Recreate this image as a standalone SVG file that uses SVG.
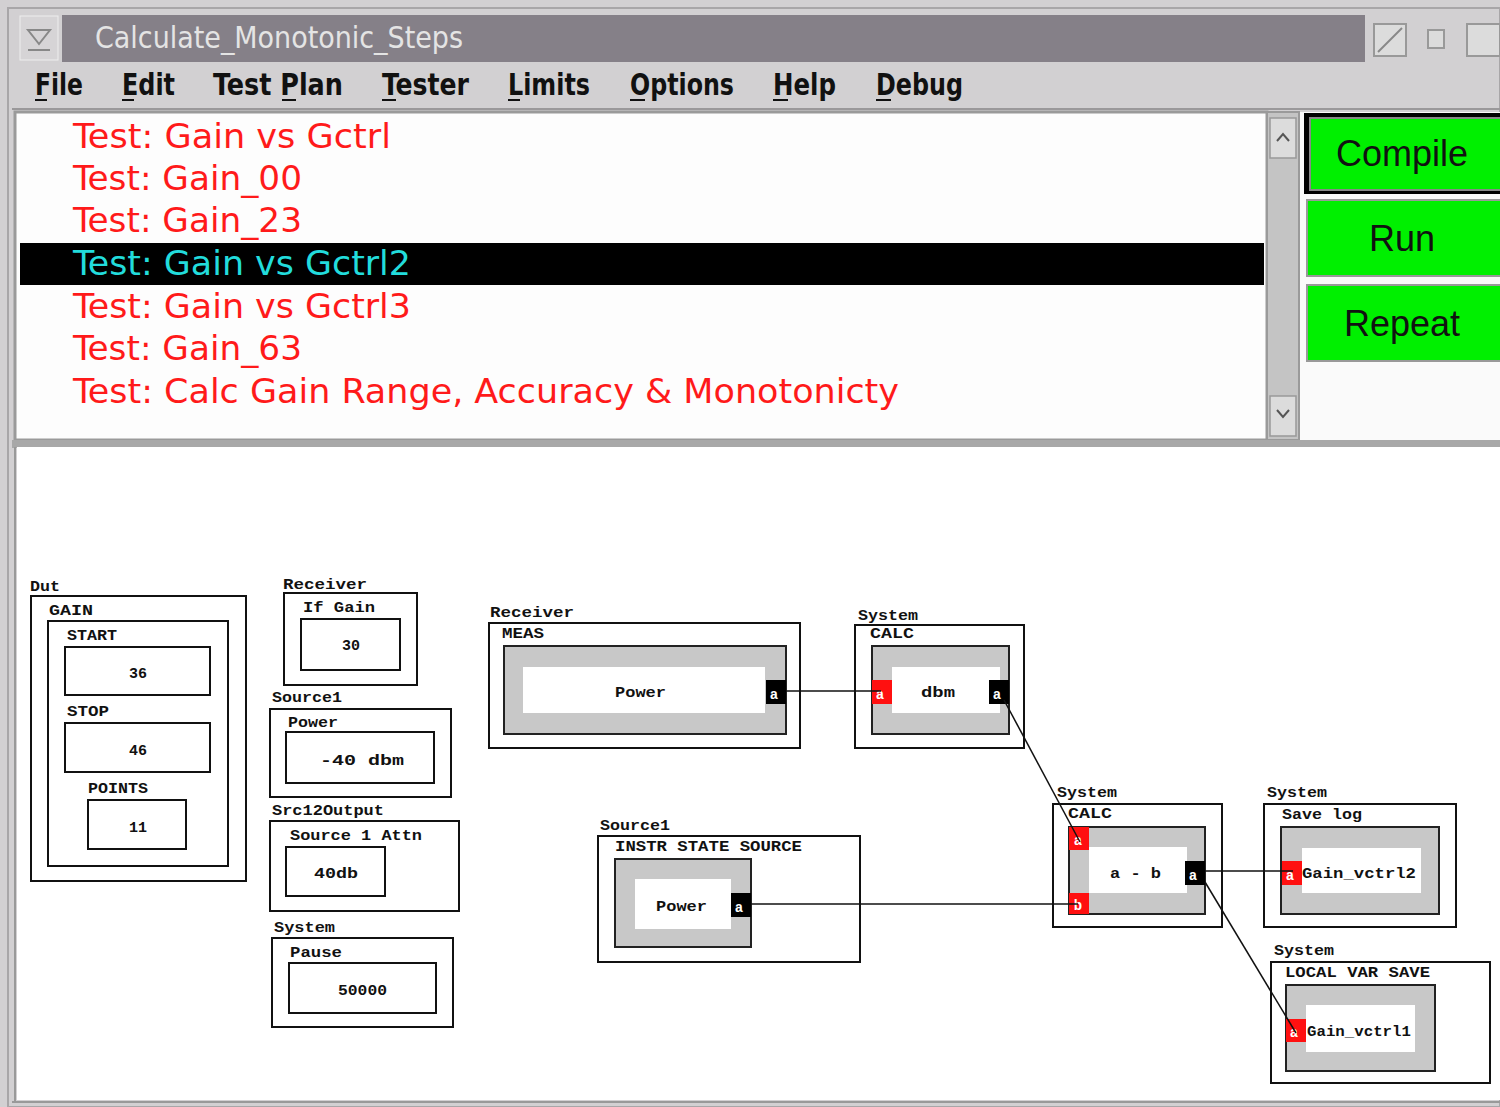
<svg xmlns="http://www.w3.org/2000/svg" width="1500" height="1107" viewBox="0 0 1500 1107">
  <defs>
    <style>
      .ui { font-family: "DejaVu Sans Condensed", "Liberation Sans", sans-serif; }
      .menu { font-family: "DejaVu Sans Condensed", "Liberation Sans", sans-serif; font-size: 30px; font-weight: bold; fill: #111; }
      .item { font-family: "DejaVu Sans Condensed", "Liberation Sans", sans-serif; font-size: 34px; fill: #ff1a1a; }
      .btn { font-family: "Liberation Sans", Arial, sans-serif; font-size: 36px; fill: #111; text-anchor: middle; }
      .t { font-family: "Liberation Mono", "Courier New", monospace; font-size: 15px; font-weight: bold; fill: #111; }
      .tc { font-family: "Liberation Mono", "Courier New", monospace; font-size: 15px; font-weight: bold; fill: #111; text-anchor: middle; }
      .pt { font-family: "Liberation Mono", "Courier New", monospace; font-size: 14px; font-weight: bold; fill: #fff; text-anchor: middle; }
      .box { fill: #fff; stroke: #111; stroke-width: 2; }
      .blk { fill: #c8c8c8; stroke: #222; stroke-width: 2; }
      .inner { fill: #fff; }
      .pin { fill: #ff1010; }
      .pout { fill: #000; }
      .wire { fill: none; stroke: #111; stroke-width: 1.5; }
      .ul { stroke: #111; stroke-width: 2; }
    </style>
  </defs>

  <!-- window frame -->
  <rect x="0" y="0" width="1500" height="1107" fill="#d2d0d2"/>
  <rect x="8" y="8" width="1492" height="1099" fill="#d2d0d2" stroke="#a8a6a8" stroke-width="2"/>

  <!-- title bar -->
  <rect x="20" y="16" width="38" height="44" fill="#d6d4d6" stroke="#eee" stroke-width="1"/>
  <path d="M28 30 L50 30 L39 44 Z" fill="none" stroke="#888" stroke-width="2"/>
  <line x1="28" y1="50" x2="50" y2="50" stroke="#888" stroke-width="2"/>
  <rect x="62" y="15" width="1303" height="47" fill="#858088"/>
  <text x="95" y="48" class="ui" font-size="30" fill="#e4e4e4" textLength="368" lengthAdjust="spacingAndGlyphs">Calculate_Monotonic_Steps</text>
  <rect x="1374" y="24" width="32" height="32" fill="#dcdcdc" stroke="#999" stroke-width="2"/>
  <line x1="1378" y1="52" x2="1402" y2="28" stroke="#888" stroke-width="2"/>
  <rect x="1428" y="30" width="16" height="18" fill="#dcdcdc" stroke="#999" stroke-width="2"/>
  <rect x="1467" y="24" width="33" height="32" fill="#dcdcdc" stroke="#999" stroke-width="2"/>

  <!-- menu bar -->
  <g id="menu">
    <text x="35" y="95" class="menu" textLength="48" lengthAdjust="spacingAndGlyphs">File</text>
    <line x1="35" y1="100" x2="47" y2="100" class="ul"/>
    <text x="122" y="95" class="menu" textLength="53" lengthAdjust="spacingAndGlyphs">Edit</text>
    <line x1="122" y1="100" x2="134" y2="100" class="ul"/>
    <text x="213" y="95" class="menu" textLength="130" lengthAdjust="spacingAndGlyphs">Test Plan</text>
    <line x1="282" y1="100" x2="296" y2="100" class="ul"/>
    <text x="382" y="95" class="menu" textLength="87" lengthAdjust="spacingAndGlyphs">Tester</text>
    <line x1="382" y1="100" x2="396" y2="100" class="ul"/>
    <text x="508" y="95" class="menu" textLength="82" lengthAdjust="spacingAndGlyphs">Limits</text>
    <line x1="508" y1="100" x2="520" y2="100" class="ul"/>
    <text x="630" y="95" class="menu" textLength="104" lengthAdjust="spacingAndGlyphs">Options</text>
    <line x1="630" y1="100" x2="645" y2="100" class="ul"/>
    <text x="773" y="95" class="menu" textLength="63" lengthAdjust="spacingAndGlyphs">Help</text>
    <line x1="773" y1="100" x2="788" y2="100" class="ul"/>
    <text x="876" y="95" class="menu" textLength="87" lengthAdjust="spacingAndGlyphs">Debug</text>
    <line x1="876" y1="100" x2="891" y2="100" class="ul"/>
  </g>
  <line x1="12" y1="109" x2="1500" y2="109" stroke="#9a989a" stroke-width="2"/>

  <!-- test list -->
  <g id="test-list">
    <rect x="15" y="112" width="1252" height="328" fill="#fdfdfd" stroke="#9a9a9a" stroke-width="3"/>
    <rect x="20" y="243" width="1244" height="42" fill="#000"/>
    <text x="73" y="148" class="item" textLength="318" lengthAdjust="spacingAndGlyphs">Test: Gain vs Gctrl</text>
    <text x="73" y="190" class="item" textLength="229" lengthAdjust="spacingAndGlyphs">Test: Gain_00</text>
    <text x="73" y="232" class="item" textLength="229" lengthAdjust="spacingAndGlyphs">Test: Gain_23</text>
    <text x="73" y="275" class="item" style="fill:#22dcdc" textLength="338" lengthAdjust="spacingAndGlyphs">Test: Gain vs Gctrl2</text>
    <text x="73" y="318" class="item" textLength="338" lengthAdjust="spacingAndGlyphs">Test: Gain vs Gctrl3</text>
    <text x="73" y="360" class="item" textLength="229" lengthAdjust="spacingAndGlyphs">Test: Gain_63</text>
    <text x="73" y="403" class="item" textLength="826" lengthAdjust="spacingAndGlyphs">Test: Calc Gain Range, Accuracy &amp; Monotonicty</text>
  </g>

  <!-- scrollbar -->
  <g id="scrollbar">
    <rect x="1267" y="112" width="32" height="328" fill="#c4c4c4" stroke="#9a9a9a" stroke-width="2"/>
    <rect x="1270" y="118" width="26" height="40" fill="#dcdcdc" stroke="#999" stroke-width="1.5"/>
    <path d="M1277 141 L1283 134 L1289 141" fill="none" stroke="#555" stroke-width="2"/>
    <rect x="1270" y="396" width="26" height="40" fill="#dcdcdc" stroke="#999" stroke-width="1.5"/>
    <path d="M1277 410 L1283 417 L1289 410" fill="none" stroke="#555" stroke-width="2"/>
  </g>

  <!-- buttons -->
  <rect x="1300" y="112" width="200" height="330" fill="#fafafa"/>
  <g id="btn-compile">
    <rect x="1304" y="113" width="198" height="81" fill="#000"/>
    <rect x="1310" y="118" width="192" height="72" fill="#00f000" stroke="#888" stroke-width="2"/>
    <text x="1402" y="166" class="btn">Compile</text>
  </g>
  <g id="btn-run">
    <rect x="1307" y="200" width="195" height="76" fill="#00f000" stroke="#999" stroke-width="2"/>
    <text x="1402" y="251" class="btn">Run</text>
  </g>
  <g id="btn-repeat">
    <rect x="1307" y="285" width="195" height="76" fill="#00f000" stroke="#999" stroke-width="2"/>
    <text x="1402" y="336" class="btn">Repeat</text>
  </g>

  <!-- canvas -->
  <rect x="12" y="440" width="1490" height="8" fill="#a8a8a8"/>
  <rect x="17" y="447" width="1483" height="653" fill="#fff"/>
  <line x1="15" y1="447" x2="15" y2="1101" stroke="#999" stroke-width="2"/>
  <line x1="12" y1="1102" x2="1500" y2="1102" stroke="#999" stroke-width="2"/>

  <!-- Dut / GAIN -->
  <g id="node-dut">
    <text x="30" y="591" class="t" textLength="30" lengthAdjust="spacingAndGlyphs">Dut</text>
    <rect x="31" y="596" width="215" height="285" class="box"/>
    <text x="49" y="615" class="t" textLength="44" lengthAdjust="spacingAndGlyphs">GAIN</text>
    <rect x="48" y="621" width="180" height="245" class="box"/>
    <text x="67" y="640" class="t" textLength="50" lengthAdjust="spacingAndGlyphs">START</text>
    <rect x="65" y="647" width="145" height="48" class="box"/>
    <text x="138" y="678" class="tc">36</text>
    <text x="67" y="716" class="t" textLength="42" lengthAdjust="spacingAndGlyphs">STOP</text>
    <rect x="65" y="723" width="145" height="49" class="box"/>
    <text x="138" y="755" class="tc">46</text>
    <text x="88" y="793" class="t" textLength="60" lengthAdjust="spacingAndGlyphs">POINTS</text>
    <rect x="88" y="800" width="98" height="49" class="box"/>
    <text x="138" y="832" class="tc">11</text>
  </g>

  <!-- Receiver / If Gain -->
  <g id="node-receiver-ifgain">
    <text x="283" y="589" class="t" textLength="84" lengthAdjust="spacingAndGlyphs">Receiver</text>
    <rect x="284" y="593" width="133" height="92" class="box"/>
    <text x="303" y="612" class="t" textLength="72" lengthAdjust="spacingAndGlyphs">If Gain</text>
    <rect x="301" y="619" width="99" height="51" class="box"/>
    <text x="351" y="650" class="tc">30</text>
  </g>

  <!-- Source1 / Power -->
  <g id="node-source1-power">
    <text x="272" y="702" class="t" textLength="70" lengthAdjust="spacingAndGlyphs">Source1</text>
    <rect x="270" y="709" width="181" height="88" class="box"/>
    <text x="288" y="727" class="t" textLength="50" lengthAdjust="spacingAndGlyphs">Power</text>
    <rect x="286" y="732" width="148" height="51" class="box"/>
    <text x="320" y="765" class="t" textLength="84" lengthAdjust="spacingAndGlyphs">-40  dbm</text>
  </g>

  <!-- Src12Output / Source 1 Attn -->
  <g id="node-src12output">
    <text x="272" y="815" class="t" textLength="112" lengthAdjust="spacingAndGlyphs">Src12Output</text>
    <rect x="270" y="821" width="189" height="90" class="box"/>
    <text x="290" y="840" class="t" textLength="132" lengthAdjust="spacingAndGlyphs">Source 1 Attn</text>
    <rect x="286" y="847" width="99" height="49" class="box"/>
    <text x="314" y="878" class="t" textLength="44" lengthAdjust="spacingAndGlyphs">40db</text>
  </g>

  <!-- System / Pause -->
  <g id="node-system-pause">
    <text x="274" y="932" class="t" textLength="61" lengthAdjust="spacingAndGlyphs">System</text>
    <rect x="272" y="938" width="181" height="89" class="box"/>
    <text x="290" y="957" class="t" textLength="52" lengthAdjust="spacingAndGlyphs">Pause</text>
    <rect x="289" y="963" width="147" height="50" class="box"/>
    <text x="338" y="995" class="t" textLength="49" lengthAdjust="spacingAndGlyphs">50000</text>
  </g>

  <!-- Receiver / MEAS -->
  <g id="node-receiver-meas">
    <text x="490" y="617" class="t" textLength="84" lengthAdjust="spacingAndGlyphs">Receiver</text>
    <rect x="489" y="623" width="311" height="125" class="box"/>
    <text x="502" y="638" class="t" textLength="42" lengthAdjust="spacingAndGlyphs">MEAS</text>
    <rect x="504" y="646" width="282" height="88" class="blk"/>
    <rect x="523" y="667" width="242" height="46" class="inner"/>
    <text x="615" y="697" class="t" textLength="51" lengthAdjust="spacingAndGlyphs">Power</text>
    <rect x="766" y="680" width="20" height="24" class="pout"/>
    <text x="774" y="699" class="pt">a</text>
  </g>

  <!-- System / CALC dbm -->
  <g id="node-calc-dbm">
    <text x="858" y="620" class="t" textLength="60" lengthAdjust="spacingAndGlyphs">System</text>
    <rect x="855" y="625" width="169" height="123" class="box"/>
    <text x="870" y="638" class="t" textLength="44" lengthAdjust="spacingAndGlyphs">CALC</text>
    <rect x="872" y="646" width="137" height="88" class="blk"/>
    <rect x="892" y="667" width="108" height="46" class="inner"/>
    <rect x="872" y="680" width="20" height="24" class="pin"/>
    <text x="880" y="699" class="pt">a</text>
    <text x="921" y="697" class="t" textLength="34" lengthAdjust="spacingAndGlyphs">dbm</text>
    <rect x="989" y="680" width="20" height="24" class="pout"/>
    <text x="997" y="699" class="pt">a</text>
  </g>

  <!-- Source1 / INSTR STATE SOURCE -->
  <g id="node-instr-state">
    <text x="600" y="830" class="t" textLength="70" lengthAdjust="spacingAndGlyphs">Source1</text>
    <rect x="598" y="836" width="262" height="126" class="box"/>
    <text x="615" y="851" class="t" textLength="187" lengthAdjust="spacingAndGlyphs">INSTR STATE SOURCE</text>
    <rect x="615" y="859" width="136" height="88" class="blk"/>
    <rect x="635" y="879" width="96" height="50" class="inner"/>
    <text x="656" y="911" class="t" textLength="51" lengthAdjust="spacingAndGlyphs">Power</text>
    <rect x="731" y="893" width="20" height="24" class="pout"/>
    <text x="739" y="912" class="pt">a</text>
  </g>

  <!-- System / CALC a - b -->
  <g id="node-calc-ab">
    <text x="1057" y="797" class="t" textLength="60" lengthAdjust="spacingAndGlyphs">System</text>
    <rect x="1053" y="804" width="169" height="123" class="box"/>
    <text x="1068" y="818" class="t" textLength="44" lengthAdjust="spacingAndGlyphs">CALC</text>
    <rect x="1069" y="827" width="136" height="87" class="blk"/>
    <rect x="1089" y="847" width="98" height="46" class="inner"/>
    <rect x="1069" y="827" width="20" height="23" class="pin"/>
    <text x="1078" y="845" class="pt">a</text>
    <rect x="1069" y="893" width="20" height="21" class="pin"/>
    <text x="1078" y="910" class="pt">b</text>
    <text x="1110" y="878" class="t" textLength="51" lengthAdjust="spacingAndGlyphs">a - b</text>
    <rect x="1185" y="861" width="20" height="24" class="pout"/>
    <text x="1193" y="880" class="pt">a</text>
  </g>

  <!-- System / Save log -->
  <g id="node-save-log">
    <text x="1267" y="797" class="t" textLength="60" lengthAdjust="spacingAndGlyphs">System</text>
    <rect x="1264" y="804" width="192" height="123" class="box"/>
    <text x="1282" y="819" class="t" textLength="80" lengthAdjust="spacingAndGlyphs">Save log</text>
    <rect x="1281" y="827" width="158" height="87" class="blk"/>
    <rect x="1302" y="848" width="119" height="45" class="inner"/>
    <rect x="1282" y="861" width="20" height="24" class="pin"/>
    <text x="1290" y="880" class="pt">a</text>
    <text x="1302" y="878" class="t" textLength="114" lengthAdjust="spacingAndGlyphs">Gain_vctrl2</text>
  </g>

  <!-- System / LOCAL VAR SAVE -->
  <g id="node-local-var-save">
    <text x="1274" y="955" class="t" textLength="60" lengthAdjust="spacingAndGlyphs">System</text>
    <rect x="1271" y="962" width="219" height="121" class="box"/>
    <text x="1285" y="977" class="t" textLength="145" lengthAdjust="spacingAndGlyphs">LOCAL VAR SAVE</text>
    <rect x="1286" y="985" width="149" height="86" class="blk"/>
    <rect x="1306" y="1005" width="109" height="47" class="inner"/>
    <rect x="1286" y="1019" width="20" height="23" class="pin"/>
    <text x="1294" y="1037" class="pt">a</text>
    <text x="1307" y="1036" class="t" textLength="104" lengthAdjust="spacingAndGlyphs">Gain_vctrl1</text>
  </g>

  <!-- connectors, drawn over the blocks -->
  <g id="connectors">
    <line x1="786" y1="691" x2="881" y2="691" class="wire"/>
    <line x1="1004" y1="700" x2="1080" y2="842" class="wire"/>
    <line x1="751" y1="904" x2="1078" y2="904" class="wire"/>
    <line x1="1205" y1="871" x2="1293" y2="871" class="wire"/>
    <line x1="1205" y1="882" x2="1296" y2="1033" class="wire"/>
  </g>
</svg>
